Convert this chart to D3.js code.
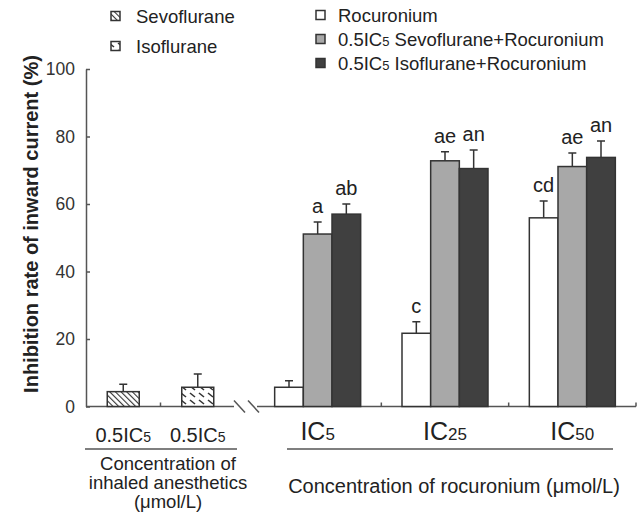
<!DOCTYPE html>
<html>
<head>
<meta charset="utf-8">
<script src="https://cdn.jsdelivr.net/npm/d3@7"></script>
<style>
  body { margin: 0; background: #fff; }
  text { font-family: Arial, "Liberation Sans", Helvetica, sans-serif; fill: #222; }
</style>
</head>
<body>
<div id="chart"></div>
<script>
const width = 642, height = 513;

// data
const anesthetics = ["Sevoflurane", "Isoflurane"];
const anestheticMean = [4.4, 5.7];
const anestheticSD = [2.2, 3.9];

const doses = ["IC5", "IC25", "IC50"];
const series = ["Rocuronium", "0.5IC5 Sevoflurane+Rocuronium", "0.5IC5 Isoflurane+Rocuronium"];
const rocMean = [5.7, 21.7, 55.9];
const rocSD = [1.9, 3.4, 5.0];
const sevoRocMean = [51.1, 72.8, 71.1];
const sevoRocSD = [3.6, 2.7, 4.0];
const isoRocMean = [57.0, 70.5, 73.8];
const isoRocSD = [3.0, 5.5, 4.9];
const rocMarks = ["", "c", "cd"];
const sevoRocMarks = ["a", "ae", "ae"];
const isoRocMarks = ["ab", "an", "an"];

const yTicks = [0, 20, 40, 60, 80, 100];

const seriesFill = ["#ffffff", "#a8a8a8", "#404040"];
const axisColor = "#555";

const svg = d3.select("#chart")
    .append("svg")
    .attr("width", width)
    .attr("height", height);

// hatch patterns
const defs = svg.append("defs");
const hatch = defs.append("pattern")
    .attr("id", "hatch-sevo")
    .attr("patternUnits", "userSpaceOnUse")
    .attr("width", 4).attr("height", 4)
    .attr("patternTransform", "rotate(-45)");
hatch.append("rect").attr("width", 4).attr("height", 4).attr("fill", "#fff");
hatch.append("line")
    .attr("x1", 0).attr("y1", 0).attr("x2", 0).attr("y2", 4)
    .attr("stroke", "#333").attr("stroke-width", 2.2);

const dash = defs.append("pattern")
    .attr("id", "hatch-iso")
    .attr("patternUnits", "userSpaceOnUse")
    .attr("width", 9).attr("height", 7);
dash.append("rect").attr("width", 9).attr("height", 7).attr("fill", "#fff");
dash.append("path")
    .attr("d", "M1,1 L6,5")
    .attr("stroke", "#333").attr("stroke-width", 1.6)
    .attr("fill", "none");

// scales
const y = d3.scaleLinear().domain([0, 100]).range([406.5, 69]);
const xLeft = d3.scalePoint().domain(anesthetics).range([86, 235]).padding(0.5);
const xRight = d3.scalePoint().domain(doses).range([254, 636]).padding(0.5);
const xInner = d3.scaleBand().domain(series).range([-43, 43]);
const leftBarW = 32;

// y axis
const yAxis = svg.append("g")
    .attr("transform", "translate(86,0)")
    .call(d3.axisLeft(y).tickValues(yTicks).tickSizeInner(-4).tickSizeOuter(0).tickPadding(11));
yAxis.select(".domain").attr("stroke", axisColor).attr("stroke-width", 1.5);
yAxis.selectAll(".tick line").attr("stroke", axisColor).attr("stroke-width", 1.5);
yAxis.selectAll(".tick text")
    .attr("font-size", 17.5)
    .style("fill", "#333")
    .style("font-family", "Arial, 'Liberation Sans', sans-serif");

svg.append("text")
    .attr("transform", "translate(38,224) rotate(-90)")
    .attr("text-anchor", "middle")
    .attr("font-size", 20)
    .attr("font-weight", "bold")
    .text("Inhibition rate of inward current (%)");

// x axis with break
const y0 = y(0);
svg.append("line")
    .attr("x1", 86).attr("x2", 234).attr("y1", y0).attr("y2", y0)
    .attr("stroke", axisColor).attr("stroke-width", 1.5);
svg.append("line")
    .attr("x1", 257).attr("x2", 636).attr("y1", y0).attr("y2", y0)
    .attr("stroke", axisColor).attr("stroke-width", 1.5);
[234, 248].forEach(bx => {
    svg.append("line")
        .attr("x1", bx).attr("y1", y0 - 6).attr("x2", bx + 11).attr("y2", y0 + 6)
        .attr("stroke", axisColor).attr("stroke-width", 1.5);
});

// x ticks between categories
const leftMid = (xLeft(anesthetics[0]) + xLeft(anesthetics[1])) / 2;
const rightStep = xRight.step();
const xTickPos = [leftMid].concat(doses.map(d => xRight(d) + rightStep / 2));
svg.selectAll(".xtick")
    .data(xTickPos)
    .enter()
    .append("line")
    .attr("class", "xtick")
    .attr("x1", d => d).attr("x2", d => d)
    .attr("y1", y0).attr("y2", y0 - 4)
    .attr("stroke", axisColor).attr("stroke-width", 1.5);

// anesthetic-only bars
const leftData = anesthetics.map((a, i) => ({ name: a, mean: anestheticMean[i], sd: anestheticSD[i], fill: i === 0 ? "url(#hatch-sevo)" : "url(#hatch-iso)" }));

svg.selectAll(".err-left")
    .data(leftData)
    .enter()
    .append("path")
    .attr("d", d => {
        const cx = xLeft(d.name), top = y(d.mean + d.sd);
        return `M${cx},${y(d.mean)}V${top}M${cx - 4},${top}H${cx + 4}`;
    })
    .attr("stroke", "#333").attr("stroke-width", 1.5).attr("fill", "none");

svg.selectAll(".bar-left")
    .data(leftData)
    .enter()
    .append("rect")
    .attr("x", d => xLeft(d.name) - leftBarW / 2)
    .attr("y", d => y(d.mean))
    .attr("width", leftBarW)
    .attr("height", d => y0 - y(d.mean))
    .attr("fill", d => d.fill)
    .attr("stroke", "#333").attr("stroke-width", 1.5);

// rocuronium groups
const means = [rocMean, sevoRocMean, isoRocMean];
const sds = [rocSD, sevoRocSD, isoRocSD];
const marks = [rocMarks, sevoRocMarks, isoRocMarks];
const rightData = [];
doses.forEach((d, i) => {
    series.forEach((s, j) => {
        rightData.push({ dose: d, s: s, j: j, mean: means[j][i], sd: sds[j][i], mark: marks[j][i] });
    });
});
const cxOf = d => xRight(d.dose) + xInner(d.s) + xInner.bandwidth() / 2;

svg.selectAll(".err-right")
    .data(rightData)
    .enter()
    .append("path")
    .attr("d", d => {
        const cx = cxOf(d), top = y(d.mean + d.sd);
        return `M${cx},${y(d.mean)}V${top}M${cx - 4},${top}H${cx + 4}`;
    })
    .attr("stroke", "#333").attr("stroke-width", 1.5).attr("fill", "none");

svg.selectAll(".bar-right")
    .data(rightData)
    .enter()
    .append("rect")
    .attr("x", d => xRight(d.dose) + xInner(d.s))
    .attr("y", d => y(d.mean))
    .attr("width", xInner.bandwidth())
    .attr("height", d => y0 - y(d.mean))
    .attr("fill", d => seriesFill[d.j])
    .attr("stroke", "#333").attr("stroke-width", 1.5);

svg.selectAll(".mark")
    .data(rightData.filter(d => d.mark))
    .enter()
    .append("text")
    .attr("x", cxOf)
    .attr("y", d => y(d.mean + d.sd) - 9)
    .attr("text-anchor", "middle")
    .attr("font-size", 20)
    .text(d => d.mark);

// category labels
function icLabel(sel, main, sub, subSize) {
    sel.append("tspan").text(main);
    sel.append("tspan").attr("font-size", subSize).text(sub);
}
xLeft.domain().forEach(a => {
    svg.append("text")
        .attr("x", xLeft(a)).attr("y", 442)
        .attr("text-anchor", "middle")
        .attr("font-size", 20)
        .call(icLabel, "0.5IC", "5", 14);
});
doses.forEach(d => {
    svg.append("text")
        .attr("x", xRight(d)).attr("y", 440)
        .attr("text-anchor", "middle")
        .attr("font-size", 25)
        .call(icLabel, "IC", d.slice(2), 17);
});

svg.append("line")
    .attr("x1", 85).attr("x2", 237).attr("y1", 449).attr("y2", 449)
    .attr("stroke", axisColor).attr("stroke-width", 1.5);
svg.append("line")
    .attr("x1", 287).attr("x2", 613).attr("y1", 449).attr("y2", 449)
    .attr("stroke", axisColor).attr("stroke-width", 1.5);

const capLeft = ["Concentration of", "inhaled anesthetics", "(μmol/L)"];
const capY = [470, 489, 508];
svg.selectAll(".cap-left")
    .data(capLeft)
    .enter()
    .append("text")
    .attr("x", 168)
    .attr("y", (d, i) => capY[i])
    .attr("text-anchor", "middle")
    .attr("font-size", 18.5)
    .text(d => d);

svg.append("text")
    .attr("x", 454).attr("y", 493)
    .attr("text-anchor", "middle")
    .attr("font-size", 20)
    .text("Concentration of rocuronium (μmol/L)");

// legends
const legLeft = svg.append("g");
anesthetics.forEach((a, i) => {
    const ly = 16 + i * 30;
    legLeft.append("rect")
        .attr("x", 111).attr("y", ly - 4.5).attr("width", 9).attr("height", 9)
        .attr("fill", i === 0 ? "url(#hatch-sevo)" : "url(#hatch-iso)")
        .attr("stroke", "#333").attr("stroke-width", 1.5);
    legLeft.append("text")
        .attr("x", 136).attr("y", ly + 6.5)
        .attr("font-size", 18.5)
        .text(a);
});

const legRight = svg.append("g");
series.forEach((s, i) => {
    const ly = 15 + i * 24;
    legRight.append("rect")
        .attr("x", 316).attr("y", ly - 4.5).attr("width", 9).attr("height", 9)
        .attr("fill", seriesFill[i])
        .attr("stroke", "#333").attr("stroke-width", 1.5);
    const t = legRight.append("text")
        .attr("x", 338).attr("y", ly + 6.5)
        .attr("font-size", 18.5);
    if (s.startsWith("0.5IC5")) {
        t.call(icLabel, "0.5IC", "5", 13);
        t.append("tspan").text(s.slice(6));
    } else {
        t.text(s);
    }
});
</script>
</body>
</html>
